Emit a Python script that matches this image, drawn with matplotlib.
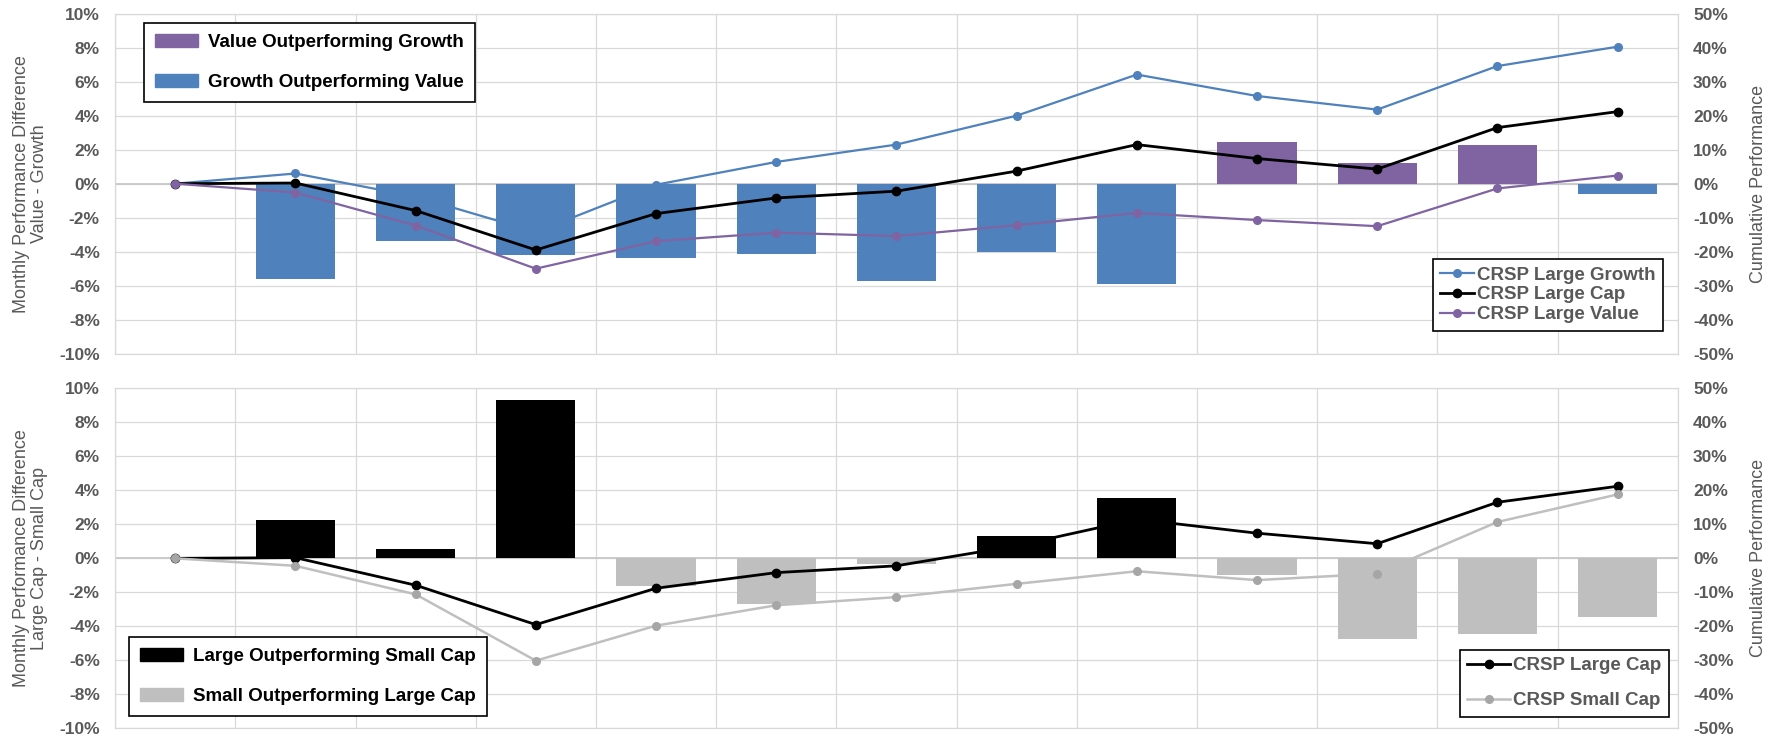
import numpy as np
import matplotlib.pyplot as plt
from matplotlib.patches import Patch
from matplotlib.ticker import FuncFormatter

plt.rcParams['font.family'] = ['Liberation Sans', 'DejaVu Sans']

# Data (percent), index 0 is the starting month
months = np.arange(13)

# cumulative performance lines
large_cap = [0, 0.2, -7.9, -19.5, -8.8, -4.2, -2.2, 3.7, 11.5, 7.4, 4.3, 16.5, 21.2]
large_growth = [0, 3.0, -3.8, -14.2, -0.3, 6.4, 11.5, 20.0, 32.1, 25.8, 21.8, 34.6, 40.3]
large_value = [0, -2.6, -12.3, -25.0, -16.9, -14.4, -15.4, -12.2, -8.6, -10.7, -12.5, -1.4, 2.4]
small_cap = [0, -2.2, -10.6, -30.1, -19.8, -13.8, -11.4, -7.5, -3.8, -6.4, -4.5, 10.7, 18.8]

# monthly differences (bars for months 1..12)
value_minus_growth = [-5.6, -3.35, -4.2, -4.35, -4.15, -5.7, -4.0, -5.9, 2.45, 1.2, 2.3, -0.6]
large_minus_small = [2.25, 0.53, 9.3, -1.6, -2.7, -0.33, 1.33, 3.55, -0.96, -4.75, -4.45, -3.45]

BLUE = '#4f81bd'
PURPLE = '#8064a2'
GRAY_BAR = '#bfbfbf'
GRAY_TXT = '#595959'
GRID = '#d9d9d9'

fig = plt.figure(figsize=(17.85, 7.41), dpi=100)
ax_top = fig.add_axes([0.0645, 0.5227, 0.8754, 0.4588])
ax_bot = fig.add_axes([0.0645, 0.0171, 0.8754, 0.4588])


def style_axes(ax, ylabel):
    ax.set_xlim(-0.5, 12.5)
    ax.set_ylim(-10, 10)
    ax.set_yticks(np.arange(-10, 11, 2))
    ax.set_xticks(np.arange(-0.5, 13, 1))
    ax.set_xticklabels([])
    ax.yaxis.set_major_formatter(FuncFormatter(lambda v, p: f'{v:.0f}%'))
    ax.tick_params(axis='both', length=0)
    ax.tick_params(axis='y', pad=11, labelsize=12.5, labelcolor=GRAY_TXT)
    for lab in ax.get_yticklabels():
        lab.set_fontweight('bold')
    ax.grid(True, color=GRID, lw=0.9)
    ax.set_axisbelow(True)
    for s in ax.spines.values():
        s.set_color(GRID)
        s.set_linewidth(0.9)
    ax.axhline(0, color='#c8c8c8', lw=1.3, zorder=1)
    ax.set_ylabel(ylabel, fontsize=13, color=GRAY_TXT, linespacing=1.05)
    ax.yaxis.set_label_coords(-0.043, 0.5)


def style_twin(ax2):
    ax2.set_ylim(-50, 50)
    ax2.set_yticks(np.arange(-50, 51, 10))
    ax2.yaxis.set_major_formatter(FuncFormatter(lambda v, p: f'{v:.0f}%'))
    ax2.tick_params(axis='y', length=0, pad=11, labelsize=12.5, labelcolor=GRAY_TXT)
    for lab in ax2.get_yticklabels():
        lab.set_fontweight('bold')
    for s in ax2.spines.values():
        s.set_visible(False)
    ax2.set_ylabel('Cumulative Performance', fontsize=13, color=GRAY_TXT, rotation=90)
    ax2.yaxis.set_label_coords(1.046, 0.5)


legend_font = {'weight': 'bold', 'size': 13.5}

# ---- top panel: value vs growth ----
style_axes(ax_top, 'Monthly Performance Difference\nValue - Growth')
vg = np.array(value_minus_growth)
ax_top.bar(months[1:], vg, width=0.66, color=np.where(vg > 0, PURPLE, BLUE), zorder=2)

top2 = ax_top.twinx()
style_twin(top2)
top2.plot(months, large_growth, color=BLUE, lw=1.6, marker='o', ms=5.5, label='CRSP Large Growth')
top2.plot(months, large_cap, color='black', lw=2.0, marker='o', ms=6, label='CRSP Large Cap')
top2.plot(months, large_value, color=PURPLE, lw=1.6, marker='o', ms=5.5, label='CRSP Large Value')

bar_handles = [Patch(color=PURPLE, label='Value Outperforming Growth'),
               Patch(color=BLUE, label='Growth Outperforming Value')]
leg = top2.legend(handles=bar_handles, loc='upper left', bbox_to_anchor=(0.0184, 0.973),
                  fancybox=False, edgecolor='black', framealpha=1, prop=legend_font,
                  labelspacing=1.2, borderpad=0.6, handlelength=2.3, handleheight=0.7,
                  handletextpad=0.5, borderaxespad=0)
leg.get_frame().set_linewidth(1.2)
top2.add_artist(leg)
leg2 = top2.legend(loc='lower right', bbox_to_anchor=(0.9905, 0.067), fancybox=False,
                   edgecolor='black', framealpha=1, prop=legend_font,
                   labelcolor=GRAY_TXT, labelspacing=0.15, borderpad=0.4, handlelength=1.8,
                   handletextpad=0.15, borderaxespad=0)
leg2.get_frame().set_linewidth(1.2)

# ---- bottom panel: large vs small cap ----
style_axes(ax_bot, 'Monthly Performance Difference\nLarge Cap - Small Cap')
ls = np.array(large_minus_small)
ax_bot.bar(months[1:], ls, width=0.66, color=np.where(ls > 0, 'black', GRAY_BAR), zorder=2)

bot2 = ax_bot.twinx()
style_twin(bot2)
bot2.plot(months, large_cap, color='black', lw=2.0, marker='o', ms=6, label='CRSP Large Cap')
bot2.plot(months, small_cap, color=GRAY_BAR, lw=1.8, marker='o', ms=5.5,
          markerfacecolor='#a6a6a6', markeredgecolor='#a6a6a6', label='CRSP Small Cap')

bar_handles2 = [Patch(color='black', label='Large Outperforming Small Cap'),
                Patch(color=GRAY_BAR, label='Small Outperforming Large Cap')]
leg3 = bot2.legend(handles=bar_handles2, loc='lower left', bbox_to_anchor=(0.0088, 0.036),
                   fancybox=False, edgecolor='black', framealpha=1, prop=legend_font,
                   labelspacing=1.2, borderpad=0.6, handlelength=2.3, handleheight=0.7,
                   handletextpad=0.5, borderaxespad=0)
leg3.get_frame().set_linewidth(1.2)
bot2.add_artist(leg3)
leg4 = bot2.legend(loc='lower right', bbox_to_anchor=(0.9943, 0.034), fancybox=False,
                   edgecolor='black', framealpha=1, prop=legend_font,
                   labelcolor=GRAY_TXT, labelspacing=0.95, borderpad=0.4, handlelength=2.3,
                   handletextpad=0.15, borderaxespad=0)
leg4.get_frame().set_linewidth(1.2)

plt.savefig('out.png', dpi=100)
